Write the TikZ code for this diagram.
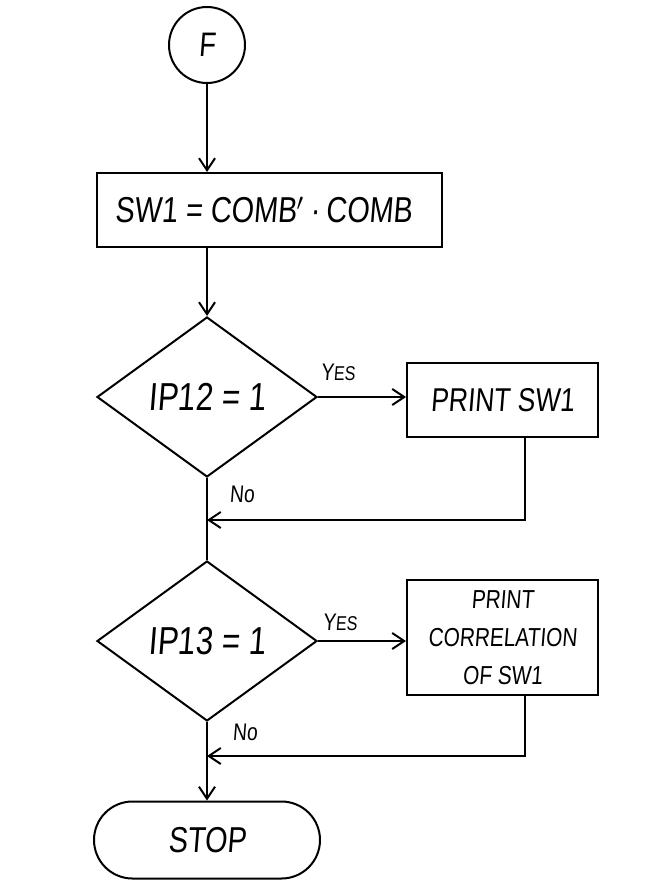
\documentclass[tikz,border=0pt]{standalone}
\usepackage{fontspec}
\setmainfont{Liberation Sans}
\newfontfamily\hand[FakeStretch=0.8,FakeSlant=0.08]{Liberation Sans}
\usetikzlibrary{shapes.geometric,shapes.misc,arrows.meta}
\newcommand{\fs}[1]{\fontsize{#1}{#1}\selectfont}
\begin{document}
\begin{tikzpicture}[x=0.5pt,y=-0.5pt,
  line width=1pt,
  every node/.style={font=\hand},
  proc/.style={draw, rectangle, inner sep=0pt, align=center},
  dec/.style={draw, diamond, inner sep=0pt, minimum width=110pt, minimum height=80pt},
  term/.style={draw, rounded rectangle, inner sep=0pt, minimum width=113pt, minimum height=38.5pt},
  conn/.style={draw, circle, inner sep=0pt, minimum size=38pt},
  arr/.style={-{Straight Barb[length=6pt,width=8pt]}},
  lab/.style={font=\hand\fs{12}}
]
\useasboundingbox (0,0) rectangle (660,881);
\fill[white] (0,0) rectangle (660,881);

\node[conn, font=\hand\fs{17}] (F) at (207,45) {F};
\node[proc, minimum width=172.5pt, minimum height=37pt, font=\hand\fs{18}] (b1) at (269.5,210) {SW1 = COMB$'$\,·\,COMB\hspace{6pt}};
\node[dec, font=\hand\fs{19.5}] (d1) at (207,397) {IP12 = 1};
\node[proc, minimum width=95.5pt, minimum height=37pt, font=\hand\fs{16.5}] (b2) at (502.5,400) {PRINT SW1};
\node[dec, font=\hand\fs{19.5}] (d2) at (207,641) {IP13 = 1};
\node[proc, minimum width=95.5pt, minimum height=57.5pt, font=\hand\fontsize{13}{19}\selectfont] (b3) at (502.5,637.5) {PRINT\\CORRELATION\\OF SW1};
\node[term, font=\hand\fs{18}] (stop) at (207,840) {STOP\hspace{10pt}};

\coordinate (j1) at (207,520);
\coordinate (j2) at (207,756);

\node[lab] (y1) at (338,372) {Y{\fs{10}ES}};
\node[lab] (y2) at (340,622) {Y{\fs{10}ES}};
\node[lab] (n1) at (242,494) {No};
\node[lab] (n2) at (245,732) {No};

\draw[arr] (F.south) -- (F.south |- b1.north);
\draw[arr] (d1.north |- b1.south) -- (d1.north);
\draw[arr] (d1.east) -- (d1.east -| b2.west);
\draw[arr] ([xshift=11.25pt]b2.south) |- (j1);
\draw (d1.south) -- (d2.north);
\draw[arr] (d2.east) -- (d2.east -| b3.west);
\draw[arr] ([xshift=11.25pt]b3.south) |- (j2);
\draw (d2.south) -- (j2);
\draw[arr] (j2) -- (j2 |- stop.north);
\end{tikzpicture}
\end{document}
